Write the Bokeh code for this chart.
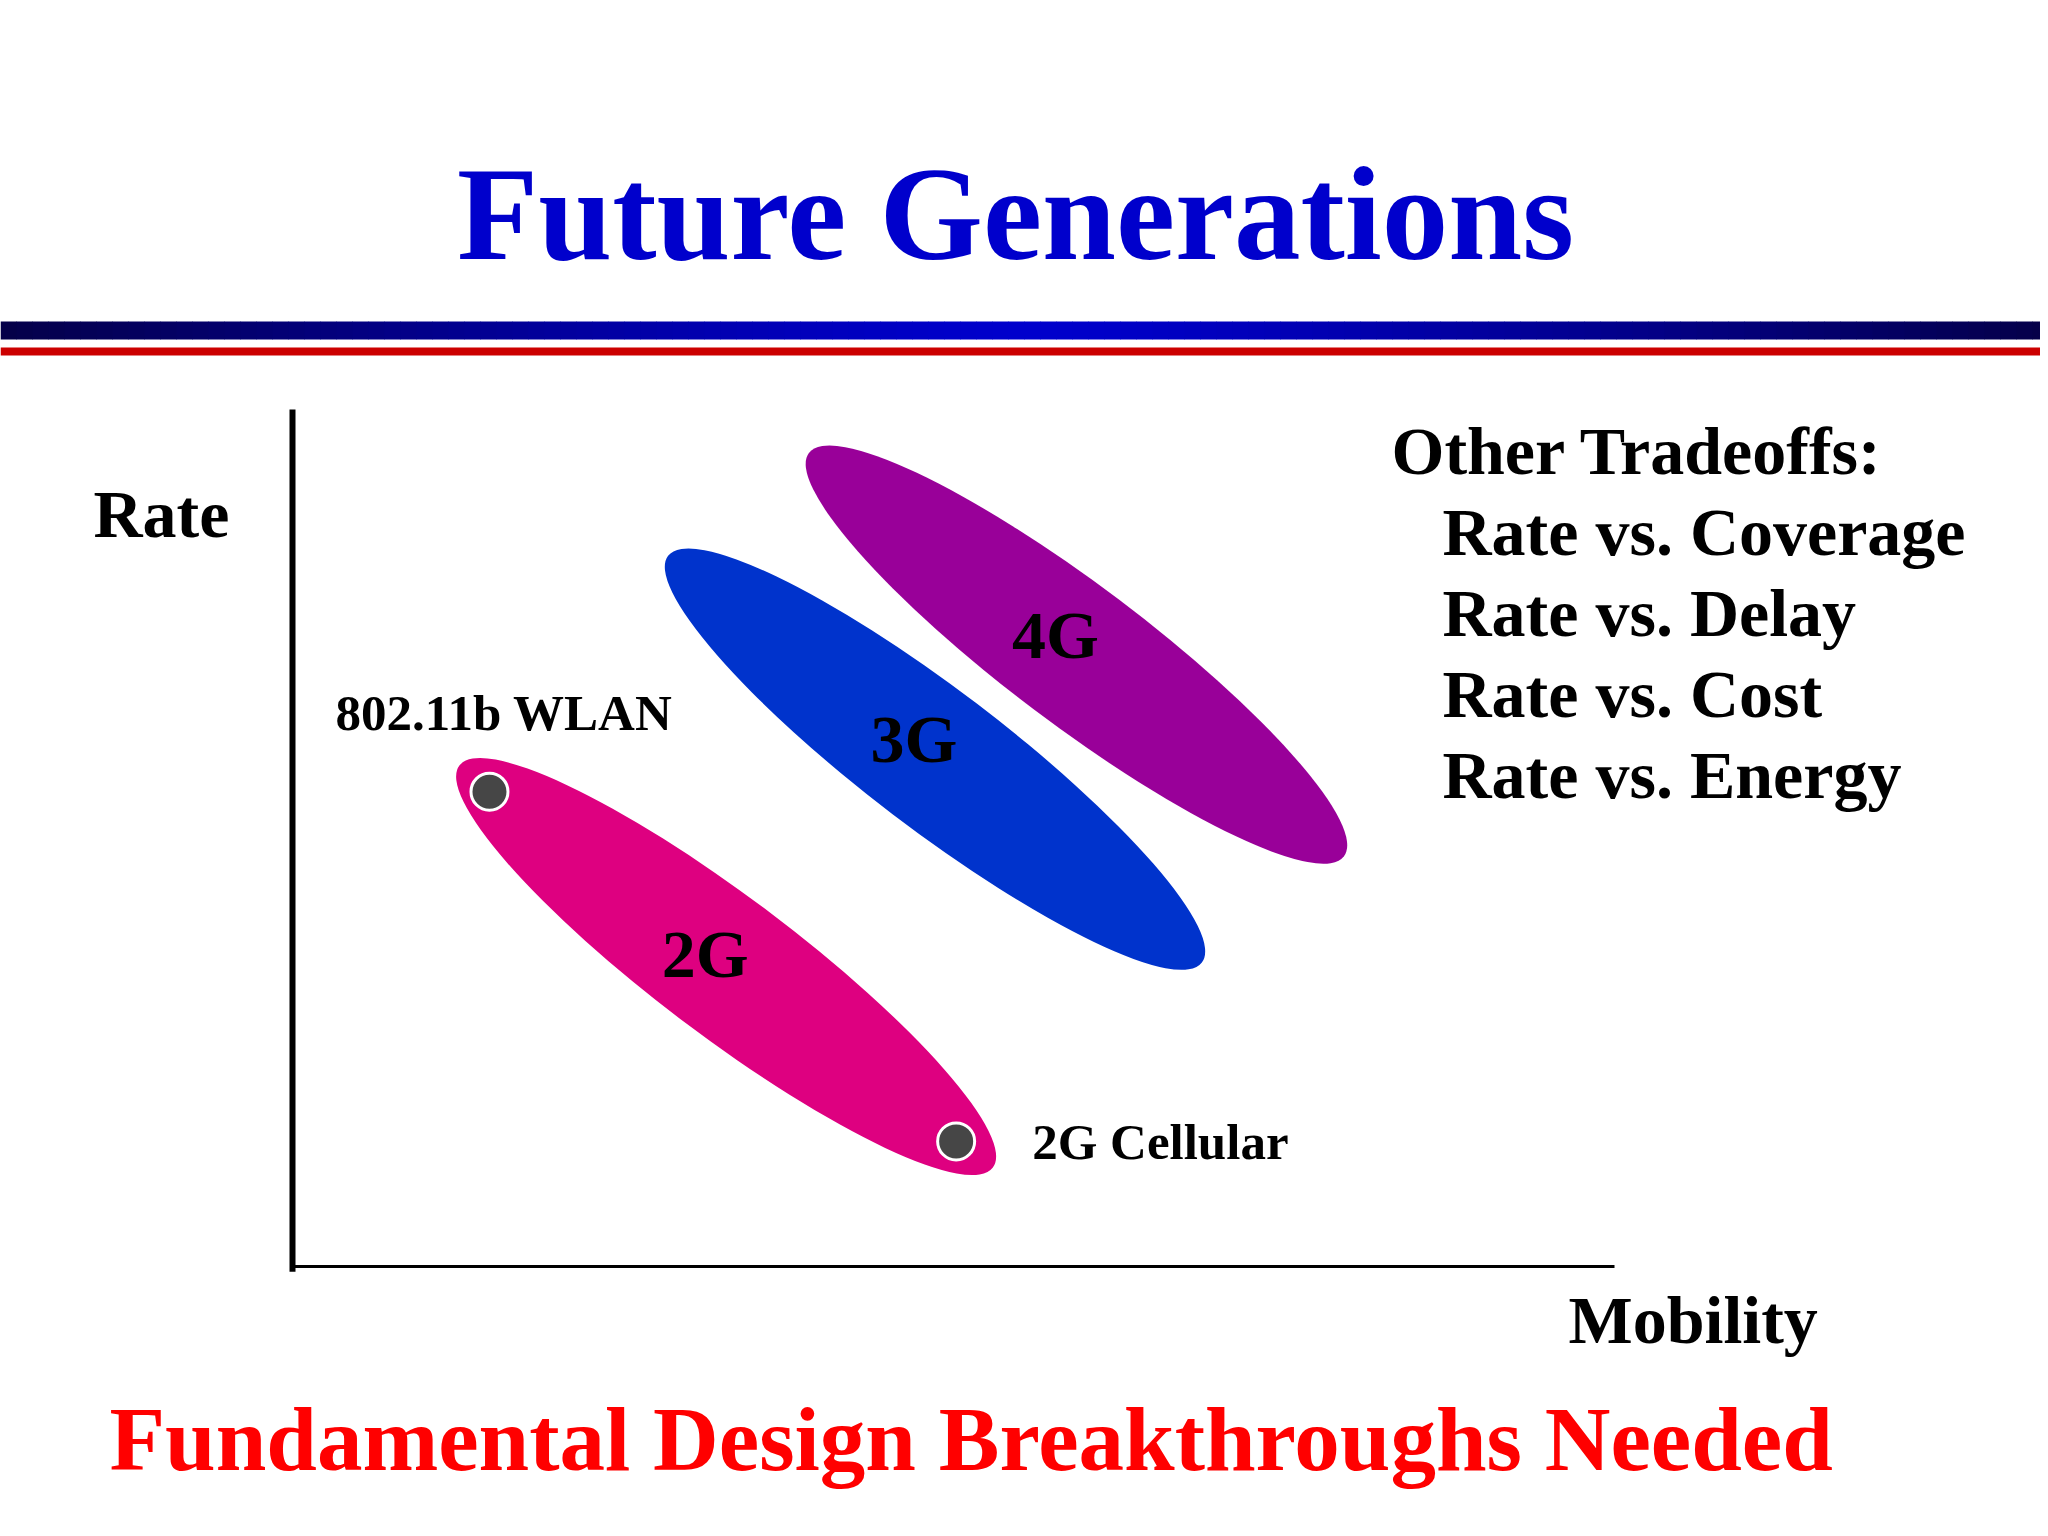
from bokeh.plotting import figure
from bokeh.models import Range1d
from bokeh.core.properties import value
from bokeh.embed import file_html
from bokeh.resources import INLINE

# ---------------- data ----------------
title = "Future Generations"
footer = "Fundamental Design Breakthroughs Needed"
x_label = "Mobility"
y_label = "Rate"

generations = ["2G", "3G", "4G"]
gen_mobility = [32.8, 48.6, 59.3]      # centre of each generation's region (0-100 scale)
gen_rate = [35.0, 59.2, 71.4]
gen_colors = ["#de0080", "#0033cc", "#990099"]

points = ["802.11b WLAN", "2G Cellular"]
point_mobility = [14.9, 50.2]
point_rate = [55.4, 14.6]

tradeoffs_heading = "Other Tradeoffs:"
tradeoffs = ["Rate vs. Coverage", "Rate vs. Delay", "Rate vs. Cost", "Rate vs. Energy"]

# ---------------- layout (page pixels) ----------------
W, H = 2040, 1528
OFF = 0
AX_LEFT, AX_RIGHT = 292, 1614
AX_BOTTOM, AX_TOP = 1266, 409
SX = (AX_RIGHT - AX_LEFT) / 100.0
SY = (AX_BOTTOM - AX_TOP) / 100.0
BASE_K = 0.35   # baseline correction (fraction of font size)


def dx(px):
    return (px - AX_LEFT) / SX


def dy(py):
    return (AX_BOTTOM - py) / SY


FONT = value("Liberation Serif")


def label(x, y, text, size, color="black", align="left", x_offset=0, y_offset=0):
    if isinstance(y_offset, list):
        yo = [v - round(BASE_K * size) for v in y_offset]
    else:
        yo = y_offset - round(BASE_K * size)
    p.text(x=x, y=y, text=text, x_offset=x_offset, y_offset=yo,
           text_align=align, text_baseline="alphabetic", text_font=FONT,
           text_font_style="bold", text_font_size="%dpx" % size, text_color=color)


p = figure(width=W, height=H,
           x_range=Range1d(dx(OFF), dx(OFF + W)),
           y_range=Range1d(dy(OFF + H), dy(OFF)),
           x_axis_location=None, y_axis_location=None,
           toolbar_location=None, output_backend="svg",
           min_border=0, outline_line_color=None,
           background_fill_color="white", border_fill_color="white")
p.grid.visible = False

# title
label([dx(1015)], [dy(260)], [title], 133, color="#0000cc", align="center")

# header rules: blue gradient bar and red line
N = 128
lefts, rights, cols = [], [], []
for i in range(N):
    x0 = i * 2048.0 / N
    x1 = (i + 1) * 2048.0 / N
    t = abs((x0 + x1) / 2 - 1024) / 1024.0
    t = min(1.0, t) ** 1.3
    b = int(round(0xcc + (0x48 - 0xcc) * t))
    rr = int(round(0x05 * t))
    lefts.append(dx(x0))
    rights.append(dx(x1 + 0.5))
    cols.append("#%02x%02x%02x" % (rr, 0, b))
p.quad(left=lefts, right=rights, bottom=dy(339), top=dy(321),
       fill_color=cols, line_color=None)
p.quad(left=[dx(0)], right=[dx(2048)], bottom=[dy(355)], top=[dy(347)],
       fill_color="#cc0000", line_color=None)

# axes
p.segment(x0=[0], y0=[-0.6], x1=[0], y1=[100], line_color="black", line_width=6)
p.segment(x0=[0], y0=[0], x1=[100], y1=[0], line_color="black", line_width=3)

label([dx(93)], [dy(537)], [y_label], 68)
label([dx(1568)], [dy(1343)], [x_label], 68)

# generation regions
p.ellipse(x=gen_mobility, y=gen_rate, width=[668, 671, 670], height=[139, 139, 139],
          width_units="screen", height_units="screen",
          angle=[-37.0, -37.3, -37.0], angle_units="deg",
          fill_color=gen_colors, line_color=None)
label(gen_mobility, gen_rate, generations, 68, align="center", x_offset=-21,
      y_offset=[11, 4, 4])

# system points
p.scatter(x=point_mobility, y=point_rate, size=37, fill_color="#464646",
          line_color="white", line_width=3)
label(point_mobility, point_rate, points, 51, x_offset=[-154, 76], y_offset=[-61, 19])

# other tradeoffs
label([dx(1391)], [dy(474)], [tradeoffs_heading], 68)
label([dx(1442)] * len(tradeoffs), [dy(555 + 81.3 * i) for i in range(len(tradeoffs))],
      tradeoffs, 68)

# footer
label([dx(109)], [dy(1471)], [footer], 91, color="#ff0000")

open("out.html", "w").write(file_html(p, INLINE))
